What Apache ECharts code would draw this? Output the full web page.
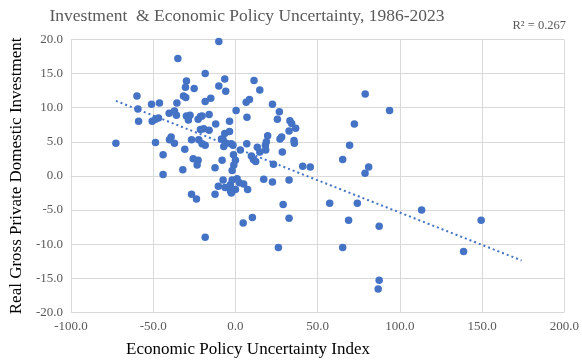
<!DOCTYPE html>
<html>
<head>
<meta charset="utf-8">
<script src="https://cdn.jsdelivr.net/npm/echarts@6/dist/echarts.min.js"></script>
<style>
html,body{margin:0;padding:0;background:#fff;}
#chart{width:582px;height:364px;}
</style>
</head>
<body>
<div id="chart"></div>
<script>
// Economic Policy Uncertainty Index (x) values
const epuIndex = [
  -10.1, -35.0, -18.4, -59.9, -29.8, -30.4, -25.1, -10.1, -6.5, -5.9,
  -31.6, -30.2, -59.3, -51.0, -46.2, -35.6, -18.4, -15.0, 0.4, -58.9,
  -50.6, -48.6, -46.8, -40.3, -37.1, -35.9, -29.8, -27.6, -28.6, -22.7,
  -21.3, -20.3, -16.0, -12.0, -3.6, -21.3, -19.3, -16.0, -6.5, -3.6,
  -7.5, -5.5, -1.5, -7.1, -72.7, -48.6, -39.1, -40.1, -37.1, -26.7,
  -22.3, -20.3, -18.4, -30.8, -44.0, -25.7, -22.7, -8.1, -1.2, 0.0,
  -1.0, -2.0, 3.0, -12.4, -32.0, -23.3, -44.0, -7.5, -10.4, -6.3,
  -3.1, -3.0, 0.0, 1.0, 2.4, 5.0, -26.7, -23.7, -12.4, 4.7,
  -18.4, -2.5, -8.5, 14.8, 11.3, 6.5, 8.5, 22.5, 26.7, 7.0,
  25.5, 33.1, 34.2, 36.6, 32.6, 35.6, 35.8, 27.1, 28.1, 19.6,
  18.8, 18.2, 18.4, 6.9, 13.3, 14.8, 9.7, 10.9, 12.3, 28.5,
  23.1, 40.9, 45.5, 17.2, 22.5, 32.6, 7.4, -2.5, -2.0, 29.0,
  57.3, 74.1, 10.3, 32.6, 68.8, 87.4, 26.1, 65.2, 87.4, 86.8,
  78.9, 72.3, 69.4, 65.2, 81.0, 78.8, 93.7, 113.2, 149.4, 138.7
];
// Real Gross Private Domestic Investment (y) values
const investment = [
  19.7, 17.2, 15.0, 11.7, 13.9, 13.0, 12.8, 13.2, 14.2, 12.4,
  11.7, 11.5, 9.8, 10.5, 10.7, 10.7, 10.9, 11.4, 9.6, 8.0,
  8.0, 8.3, 8.5, 9.2, 9.5, 8.9, 8.8, 8.9, 8.2, 8.3,
  8.7, 8.8, 9.0, 7.6, 8.0, 6.8, 6.9, 6.7, 6.2, 6.5,
  5.3, 4.8, 4.5, 4.3, 4.8, 4.9, 5.7, 5.3, 4.8, 5.3,
  5.3, 4.7, 4.5, 3.9, 3.1, 2.5, 2.3, 2.3, 3.1, 2.3,
  1.6, 0.8, 3.8, 1.2, 0.9, 1.6, 0.2, -0.6, -1.5, -1.7,
  -1.3, -2.2, -2.0, -0.4, -1.0, -1.2, -2.7, -3.4, -2.7, -6.9,
  -9.0, 4.7, 5.4, 12.6, 14.0, 10.8, 11.2, 10.5, 9.4, 8.6,
  8.3, 8.1, 7.7, 7.0, 6.6, 5.2, 4.8, 5.4, 5.7, 5.9,
  5.0, 4.5, 3.8, 4.7, 4.2, 3.5, 2.9, 2.4, 2.1, 3.5,
  1.7, 1.4, 1.3, -0.5, -0.9, -0.6, -2.0, -2.5, -0.6, -4.2,
  -4.0, -4.0, -6.1, -6.2, -6.5, -7.4, -10.5, -10.5, -15.3, -16.6,
  12.0, 7.6, 4.5, 2.4, 1.3, 0.4, 9.6, -5.0, -6.5, -11.1
];
// Linear trendline endpoints
const trendX = [-72.7, 174.0];
const trendY = [11.0, -12.4];
const xTicks = [-100, -50, 0, 50, 100, 150, 200];
const yTicks = [-20, -15, -10, -5, 0, 5, 10, 15, 20];
const rSquared = '0.267';

const points = epuIndex.map((x, i) => [x, investment[i]]);
const trend = trendX.map((x, i) => [x, trendY[i]]);

const serif = '"Liberation Serif", "DejaVu Serif", serif';
const chart = echarts.init(document.getElementById('chart'), null, {renderer: 'canvas'});
chart.setOption({
  animation: false,
  backgroundColor: '#ffffff',
  title: {
    text: 'Investment  & Economic Policy Uncertainty, 1986-2023',
    left: 242, top: 2, textAlign: 'center',
    textStyle: {fontFamily: serif, fontSize: 17.5, fontWeight: 'normal', color: '#595959'}
  },
  graphic: [{
    type: 'text', right: 16, top: 19,
    style: {text: 'R² = ' + rSquared, fontFamily: serif, fontSize: 12.5, fill: '#595959'}
  }, {
    type: 'text', left: 126, top: 341,
    style: {text: 'Economic Policy Uncertainty Index', fontFamily: serif, fontSize: 17, fill: '#000'}
  }],
  grid: {left: 61, right: 15, top: 39.5, bottom: 51.7},
  xAxis: {
    type: 'value', min: xTicks[0], max: xTicks[xTicks.length - 1], interval: 50,
    axisLine: {show: true, lineStyle: {color: '#d9d9d9'}},
    axisTick: {show: false},
    axisLabel: {fontFamily: serif, fontSize: 13, color: '#595959', margin: 8,
      formatter: v => v.toFixed(1)},
    splitLine: {show: true, lineStyle: {color: '#d9d9d9', width: 1}}
  },
  yAxis: {
    type: 'value', min: yTicks[0], max: yTicks[yTicks.length - 1], interval: 5,
    name: 'Real Gross Private Domestic Investment', nameLocation: 'middle', nameGap: 42,
    nameTextStyle: {fontFamily: serif, fontSize: 17, color: '#000'},
    axisLine: {show: true, lineStyle: {color: '#d9d9d9'}},
    axisTick: {show: false},
    axisLabel: {fontFamily: serif, fontSize: 13, color: '#595959', margin: 8,
      formatter: v => v.toFixed(1)},
    splitLine: {show: true, lineStyle: {color: '#d9d9d9', width: 1}}
  },
  series: [
    {
      type: 'line', data: trend, symbol: 'none', silent: true, z: 3,
      lineStyle: {color: '#4472C4', width: 2, type: [2, 3]}
    },
    {
      type: 'scatter', data: points, symbol: 'circle', symbolSize: 7.5, z: 2,
      itemStyle: {color: '#4472C4', opacity: 1}
    }
  ]
});
</script>
</body>
</html>
